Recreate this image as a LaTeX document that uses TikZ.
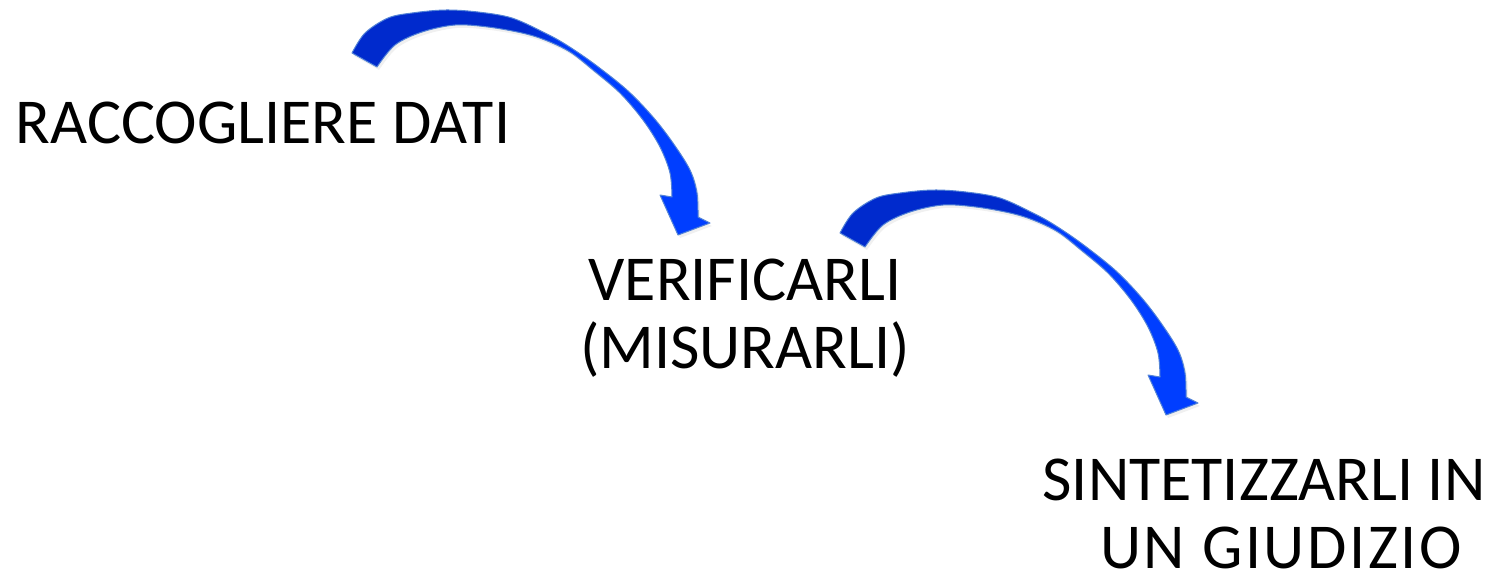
\documentclass[tikz,border=0pt]{standalone}
\usepackage{fontspec}
\setmainfont{Carlito}
\usetikzlibrary{shadows}
\definecolor{arrdark}{RGB}{0,42,205}
\definecolor{arrbright}{RGB}{0,62,255}
\definecolor{arredge}{RGB}{84,132,214}
\pgfdeclarehorizontalshading{arrowshade}{100bp}{color(0bp)=(arrdark); color(49bp)=(arrdark); color(56bp)=(arrbright); color(100bp)=(arrbright)}
\tikzset{
  lbl/.style={font=\fontsize{64}{68}\selectfont, inner sep=0pt, align=center, text=black},
  blockarrow/.style={shade, shading=arrowshade, draw=arredge, line width=1pt, line join=round,
    drop shadow={opacity=0.12, shadow xshift=2pt, shadow yshift=-3pt}},
  curved arrow/.pic={
    \path[blockarrow]
      plot[smooth, tension=0.55] coordinates {(352,53) (365,33) (388,18) (412,13) (445,10) (478,12) (512,18) (545,33) (565,44) (593,63) (627,90) (653,117) (673,143) (690,170) (697,193) (698,217)}
      -- (710,223) -- (678,235) -- (660,195)
      -- plot[smooth, tension=0.55] coordinates {(672,197) (670,173) (660,147) (643,120) (620,93) (593,70) (570,52) (545,40) (522,33) (488,27) (455,25) (422,32) (395,45) (377,67)}
      -- cycle;
  }
}
\begin{document}
\begin{tikzpicture}[x=1pt,y=-1pt]
\useasboundingbox (0,0) rectangle (1490,576);
\pic (arrowA) at (0,0) {curved arrow};
\pic (arrowB) at (488,180) {curved arrow};
\node[lbl, anchor=base] (collect) at (263,143) {RACCOGLIERE DATI};
\node[lbl, anchor=base] (verify) at (745,368) {VERIFICARLI\\(MISURARLI)};
\node[lbl, anchor=base] (synthA) at (1264,500) {SINTETIZZARLI IN};
\node[lbl, anchor=base] (synthB) at (1281,568) {\addfontfeatures{LetterSpace=4}UN GIUDIZIO};
\end{tikzpicture}
\end{document}
